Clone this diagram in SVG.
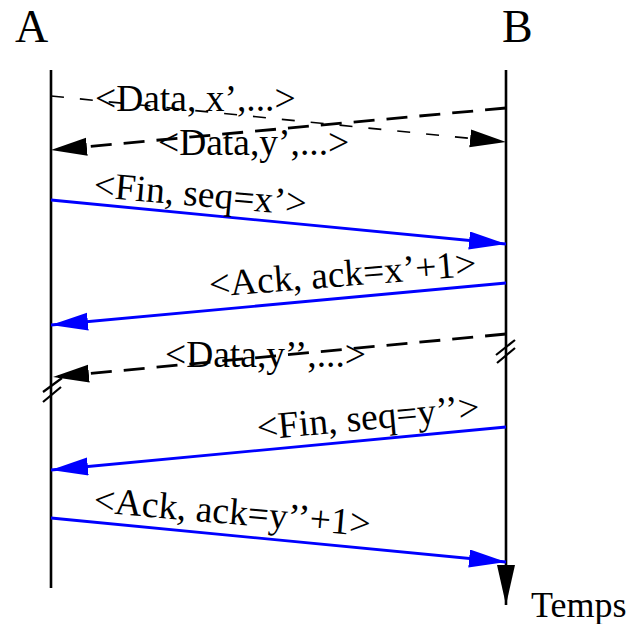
<svg xmlns="http://www.w3.org/2000/svg" width="636" height="624" viewBox="0 0 636 624">
<style>
text{font-family:"Liberation Serif","Times New Roman",serif;fill:#000}
.lbl{font-size:37.5px}
.life{stroke:#000;stroke-width:2.6;fill:none}
.blue{stroke:#0000ff;stroke-width:2.8;fill:none}
.dthin{stroke:#000;stroke-width:1.6;fill:none;stroke-dasharray:13 16}
.dthick{stroke:#000;stroke-width:2.8;fill:none;stroke-dasharray:21 12}
.brk{stroke:#000;stroke-width:2.2;fill:none}
</style>
<defs>
<marker id="ab" markerUnits="userSpaceOnUse" markerWidth="40" markerHeight="20" refX="37" refY="9" orient="auto"><path d="M0,0 L37,9 L0,18 z" fill="#0000ff"/></marker>
<marker id="ak" markerUnits="userSpaceOnUse" markerWidth="40" markerHeight="20" refX="36" refY="9" orient="auto"><path d="M0,0 L36,9 L0,18 z" fill="#000"/></marker>
<marker id="at" markerUnits="userSpaceOnUse" markerWidth="42" markerHeight="20" refX="40" refY="9" orient="auto"><path d="M0,0 L40,9 L0,18 z" fill="#000"/></marker>
</defs>
<g id="nodeA">
<text x="15" y="42" font-size="46">A</text>
<line class="life" x1="51" y1="70" x2="51" y2="588"/>
<path class="brk" d="M43,392 L62,378 M43,402 L61,387"/>
</g>
<g id="nodeB">
<text x="502" y="42" font-size="46">B</text>
<line class="life" x1="506" y1="70" x2="506" y2="605" marker-end="url(#at)"/>
<path class="brk" d="M496,355 L515,340 M497,363 L515,348"/>
<text x="531" y="617" font-size="36">Temps</text>
</g>
<g id="connectors">
<line class="dthin" x1="51" y1="96" x2="506" y2="142" marker-end="url(#ak)"/>
<line class="dthick" x1="506" y1="108" x2="51" y2="150" marker-end="url(#ak)"/>
<line class="blue" x1="51" y1="200" x2="506" y2="244" marker-end="url(#ab)"/>
<line class="blue" x1="506" y1="283" x2="51" y2="325" marker-end="url(#ab)"/>
<line class="dthick" x1="506" y1="334" x2="53" y2="377" marker-end="url(#ak)"/>
<line class="blue" x1="506" y1="427" x2="51" y2="470" marker-end="url(#ab)"/>
<line class="blue" x1="51" y1="518" x2="506" y2="562" marker-end="url(#ab)"/>
</g>
<g id="labels">
<text class="lbl" x="95" y="111">&lt;Data, x’,...&gt;</text>
<text class="lbl" x="158" y="155">&lt;Data,y’,...&gt;</text>
<text class="lbl" transform="translate(93,197) rotate(5)">&lt;Fin, seq=x’&gt;</text>
<text class="lbl" transform="translate(210,297) rotate(-4.6)">&lt;Ack, ack=x’+1&gt;</text>
<text class="lbl" x="165" y="367">&lt;Data,y’’,...&gt;</text>
<text class="lbl" transform="translate(258,440) rotate(-5.3)">&lt;Fin, seq=y’’&gt;</text>
<text class="lbl" transform="translate(93,512) rotate(5)">&lt;Ack, ack=y’’+1&gt;</text>
</g>
</svg>
